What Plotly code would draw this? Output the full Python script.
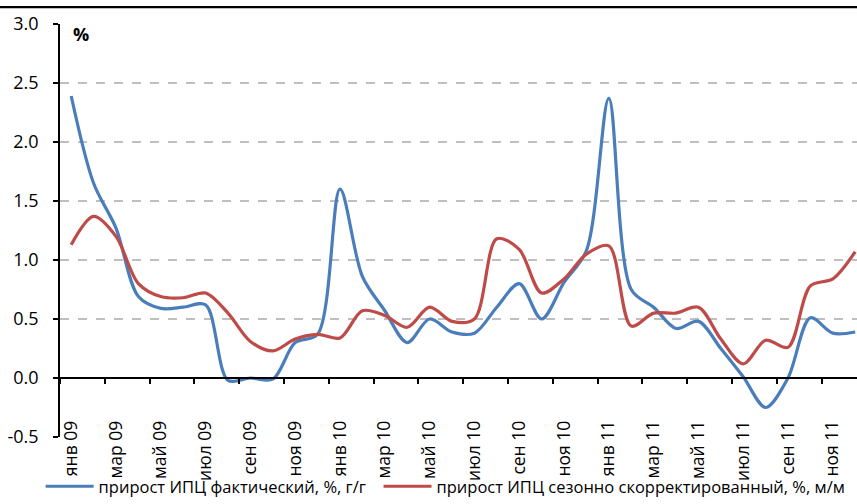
import plotly.graph_objects as go

months = ["янв 09", "фев 09", "мар 09", "апр 09", "май 09", "июн 09",
          "июл 09", "авг 09", "сен 09", "окт 09", "ноя 09", "дек 09",
          "янв 10", "фев 10", "мар 10", "апр 10", "май 10", "июн 10",
          "июл 10", "авг 10", "сен 10", "окт 10", "ноя 10", "дек 10",
          "янв 11", "фев 11", "мар 11", "апр 11", "май 11", "июн 11",
          "июл 11", "авг 11", "сен 11", "окт 11", "ноя 11", "дек 11"]

cpi_actual = [2.39, 1.65, 1.27, 0.69, 0.59, 0.60, 0.62, -0.02, 0.00, -0.01, 0.30, 0.37,
              1.60, 0.86, 0.57, 0.30, 0.50, 0.39, 0.38, 0.60, 0.80, 0.50, 0.81, 1.08,
              2.37, 0.75, 0.60, 0.42, 0.48, 0.25, 0.01, -0.25, 0.00, 0.51, 0.38, 0.39]

cpi_sa = [1.13, 1.37, 1.20, 0.80, 0.69, 0.68, 0.72, 0.55, 0.31, 0.23, 0.33, 0.37,
          0.34, 0.57, 0.53, 0.43, 0.60, 0.48, 0.50, 1.18, 1.09, 0.72, 0.84, 1.05,
          1.12, 0.44, 0.55, 0.55, 0.60, 0.33, 0.12, 0.32, 0.26, 0.78, 0.84, 1.07]

tick_labels = months[::2]
y_ticks = [-0.5, 0.0, 0.5, 1.0, 1.5, 2.0, 2.5, 3.0]

name_actual = "прирост ИПЦ фактический, %, г/г"
name_sa = "прирост ИПЦ сезонно скорректированный, %, м/м"

FONT = "Open Sans"
idx = list(range(len(months)))

fig = go.Figure()
fig.add_trace(go.Scatter(x=idx, y=cpi_actual, mode="lines", name=name_actual,
                         line=dict(color="#4A7EBB", width=3.2, shape="spline", smoothing=0.9),
                         hovertext=months, legend="legend"))
fig.add_trace(go.Scatter(x=idx, y=cpi_sa, mode="lines", name=name_sa,
                         line=dict(color="#BE4B48", width=3.2, shape="spline", smoothing=0.9),
                         hovertext=months, legend="legend2"))

legend_common = dict(orientation="h", xref="container", yref="container",
                     yanchor="bottom", xanchor="left", y=0.0,
                     font=dict(size=16.5, family=FONT), itemwidth=48,
                     bgcolor="rgba(0,0,0,0)")

fig.update_layout(
    width=857, height=504,
    margin=dict(l=60, r=0, t=24, b=67, autoexpand=False),
    paper_bgcolor="white", plot_bgcolor="white",
    font=dict(family=FONT, color="black", size=17),
    showlegend=True,
    legend=dict(x=0.0474, **legend_common),
    legend2=dict(x=0.4417, **legend_common),
    xaxis=dict(
        range=[-0.5, 35.08], automargin=False,
        anchor="free", position=(0 - (-0.5)) / 3.5,
        tickmode="array", tickvals=idx[::2], ticktext=tick_labels,
        tickangle=-90, ticks="outside", ticklen=0,
        ticklabelstandoff=35,
        tickfont=dict(size=17.5, family=FONT),
        minor=dict(tickmode="linear", tick0=-0.5, dtick=2, ticks="outside",
                   ticklen=5, tickwidth=1.5, tickcolor="black", showgrid=False),
        showline=True, linecolor="black", linewidth=1.5,
        showgrid=False, zeroline=False,
    ),
    yaxis=dict(
        range=[-0.5, 3.0], automargin=False,
        tickmode="array", tickvals=y_ticks,
        ticktext=[f"{v:.1f}" for v in y_ticks],
        ticks="outside", ticklen=5, tickwidth=1.5, tickcolor="black",
        ticklabelstandoff=11,
        tickfont=dict(size=18, family=FONT),
        showline=True, linecolor="black", linewidth=1.5,
        showgrid=True, gridcolor="#BFBFBF", gridwidth=1.5, griddash="dash",
        zeroline=False,
    ),
)

fig.add_annotation(x=0.44, y=2.915, xref="x", yref="y", text="<b>%</b>",
                   showarrow=False, font=dict(size=18, family=FONT, color="black"),
                   xanchor="center", yanchor="middle")

fig.add_shape(type="line", xref="paper", yref="paper",
              x0=-0.08, x1=1.01, y0=1.041, y1=1.041,
              line=dict(color="black", width=2.2), layer="above")

fig.write_html("out.html", config={"displayModeBar": False},
               post_script="document.body.style.margin='0';")
